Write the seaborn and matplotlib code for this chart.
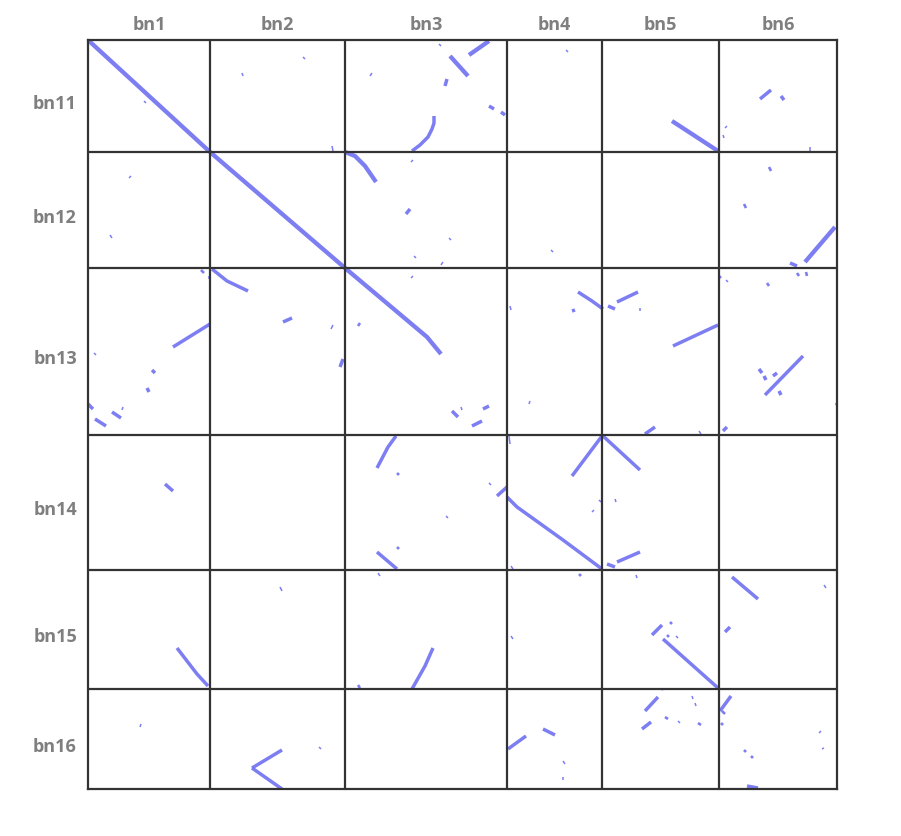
import numpy as np
import pandas as pd
import matplotlib
matplotlib.use("Agg")
import matplotlib.pyplot as plt
import matplotlib.transforms as mtransforms
import seaborn as sns

# chromosome names and lengths (Mb) on each axis
x_chroms = ["bn1", "bn2", "bn3", "bn4", "bn5", "bn6"]
x_lengths = [122, 135, 162, 95, 117, 118]
y_chroms = ["bn11", "bn12", "bn13", "bn14", "bn15", "bn16"]
y_lengths = [112, 116, 167, 135, 119, 100]

# syntenic hits per query chromosome: (target chrom, weight, [(x, y) local positions])
hits_bn11 = [
    ("bn1", 4, [(0, 0), (122, 112)]),
    ("bn1", 1, [(56, 61), (58, 63)]),
    ("bn2", 1, [(32, 33), (33, 36)]),
    ("bn2", 1, [(93, 17), (95, 19)]),
    ("bn2", 1, [(122, 106), (123, 111)]),
    ("bn3", 1, [(25, 36), (27, 33)]),
    ("bn3", 3, [(67, 111), (75, 105), (83, 97), (87, 89), (89, 83), (89, 76)]),
    ("bn3", 3, [(100, 46), (102, 39)]),
    ("bn3", 1, [(94, 4), (96, 6)]),
    ("bn3", 4, [(105, 16), (123, 36)]),
    ("bn3", 4, [(124, 15), (144, 1)]),
    ("bn3", 3, [(144, 66), (149, 69)]),
    ("bn3", 3, [(156, 72), (160, 75)]),
    ("bn4", 1, [(59, 10), (61, 12)]),
    ("bn5", 4, [(70, 81), (116, 111)]),
    ("bn6", 3, [(41, 59), (52, 50)]),
    ("bn6", 3, [(62, 56), (65, 60)]),
    ("bn6", 1, [(6, 88), (8, 86)]),
    ("bn6", 1, [(4, 95), (5, 98)]),
    ("bn6", 1, [(91, 107), (91, 111)]),
]
hits_bn12 = [
    ("bn1", 1, [(41, 26), (43, 24)]),
    ("bn1", 1, [(22, 83), (24, 86)]),
    ("bn2", 4, [(0, 0), (135, 116)]),
    ("bn3", 4, [(0, 0), (10, 4), (20, 14), (31, 30)]),
    ("bn3", 3, [(61, 62), (65, 57)]),
    ("bn3", 1, [(66, 10), (68, 8)]),
    ("bn3", 1, [(104, 86), (106, 88)]),
    ("bn3", 1, [(69, 104), (71, 106)]),
    ("bn3", 1, [(96, 113), (98, 110)]),
    ("bn4", 1, [(44, 98), (46, 100)]),
    ("bn6", 2, [(50, 15), (52, 19)]),
    ("bn6", 2, [(25, 52), (27, 56)]),
    ("bn6", 4, [(86, 110), (116, 75)]),
    ("bn6", 3, [(71, 111), (78, 114)]),
]
hits_bn13 = [
    ("bn1", 3, [(85, 79), (122, 56)]),
    ("bn1", 3, [(64, 102), (67, 105)]),
    ("bn1", 3, [(59, 120), (61, 124)]),
    ("bn1", 3, [(0, 136), (5, 141)]),
    ("bn1", 3, [(7, 151), (18, 158)]),
    ("bn1", 3, [(24, 144), (33, 150)]),
    ("bn1", 1, [(34, 142), (35, 139)]),
    ("bn1", 2, [(113, 2), (116, 5)]),
    ("bn1", 1, [(121, 8), (121, 11)]),
    ("bn1", 1, [(6, 85), (8, 87)]),
    ("bn2", 3, [(2, 1), (17, 13), (38, 23)]),
    ("bn2", 3, [(73, 54), (82, 50)]),
    ("bn2", 1, [(121, 61), (123, 57)]),
    ("bn2", 3, [(130, 99), (133, 91)]),
    ("bn3", 4, [(0, 0), (82, 69), (96, 86)]),
    ("bn3", 2, [(13, 58), (15, 55)]),
    ("bn3", 1, [(66, 10), (68, 8)]),
    ("bn3", 3, [(107, 143), (113, 149)]),
    ("bn3", 3, [(127, 158), (137, 153)]),
    ("bn3", 3, [(138, 141), (144, 138)]),
    ("bn3", 1, [(116, 139), (117, 142)]),
    ("bn4", 3, [(71, 24), (85, 33), (96, 41)]),
    ("bn4", 3, [(65, 43), (68, 42)]),
    ("bn4", 1, [(3, 38), (4, 42)]),
    ("bn4", 1, [(22, 136), (23, 133)]),
    ("bn5", 3, [(6, 38), (13, 41)]),
    ("bn5", 3, [(15, 34), (36, 24)]),
    ("bn5", 1, [(38, 40), (38, 43)]),
    ("bn5", 3, [(71, 78), (116, 57)]),
    ("bn5", 3, [(43, 166), (53, 159)]),
    ("bn5", 1, [(97, 163), (99, 166)]),
    ("bn6", 2, [(0, 8), (2, 10)]),
    ("bn6", 1, [(7, 12), (9, 14)]),
    ("bn6", 2, [(48, 15), (50, 18)]),
    ("bn6", 3, [(46, 127), (84, 88)]),
    ("bn6", 3, [(40, 101), (43, 105)]),
    ("bn6", 3, [(45, 108), (47, 112)]),
    ("bn6", 3, [(54, 108), (58, 105)]),
    ("bn6", 3, [(60, 123), (62, 127)]),
    ("bn6", 3, [(4, 163), (8, 159)]),
    ("bn6", 2, [(117, 135), (118, 137)]),
    ("bn6", 2, [(78, 5), (80, 8)]),
    ("bn6", 2, [(87, 4), (88, 8)]),
]
hits_bn14 = [
    ("bn1", 3, [(77, 49), (85, 56)]),
    ("bn3", 3, [(32, 33), (43, 12), (51, 1)]),
    ("bn3", 2, [(52, 38), (54, 40)]),
    ("bn3", 1, [(101, 81), (103, 83)]),
    ("bn3", 3, [(32, 117), (52, 134)]),
    ("bn3", 2, [(52, 112), (54, 114)]),
    ("bn3", 1, [(144, 48), (146, 50)]),
    ("bn3", 3, [(152, 61), (162, 52)]),
    ("bn4", 3, [(0, 62), (10, 72), (56, 105), (95, 134)]),
    ("bn4", 3, [(65, 41), (95, 1)]),
    ("bn4", 1, [(2, 1), (3, 9)]),
    ("bn4", 1, [(92, 65), (94, 67)]),
    ("bn4", 1, [(85, 77), (87, 75)]),
    ("bn4", 1, [(4, 131), (6, 134)]),
    ("bn5", 3, [(1, 1), (38, 35)]),
    ("bn5", 1, [(13, 64), (14, 67)]),
    ("bn5", 3, [(5, 129), (13, 132)]),
    ("bn5", 3, [(15, 127), (38, 117)]),
    ("bn6", 1, [(118, 43), (118, 46)]),
]
hits_bn15 = [
    ("bn1", 3, [(89, 78), (109, 104), (120, 116)]),
    ("bn2", 1, [(70, 17), (72, 21)]),
    ("bn3", 3, [(67, 119), (80, 96), (88, 78)]),
    ("bn3", 2, [(13, 115), (15, 118)]),
    ("bn3", 1, [(33, 3), (35, 6)]),
    ("bn4", 2, [(72, 4), (74, 6)]),
    ("bn4", 1, [(4, 66), (6, 69)]),
    ("bn5", 3, [(61, 69), (116, 118)]),
    ("bn5", 3, [(50, 65), (60, 55)]),
    ("bn5", 2, [(68, 52), (70, 54)]),
    ("bn5", 2, [(65, 65), (67, 67)]),
    ("bn5", 1, [(74, 66), (76, 68)]),
    ("bn5", 1, [(34, 5), (35, 8)]),
    ("bn6", 3, [(13, 7), (39, 29)]),
    ("bn6", 3, [(6, 62), (11, 57)]),
    ("bn6", 1, [(105, 15), (107, 18)]),
]
hits_bn16 = [
    ("bn1", 1, [(52, 38), (53, 35)]),
    ("bn2", 3, [(42, 79), (72, 61)]),
    ("bn2", 3, [(42, 79), (72, 100)]),
    ("bn2", 1, [(109, 58), (111, 60)]),
    ("bn4", 3, [(1, 60), (19, 47)]),
    ("bn4", 3, [(36, 40), (48, 46)]),
    ("bn4", 1, [(56, 72), (58, 75)]),
    ("bn4", 1, [(56, 88), (56, 91)]),
    ("bn5", 3, [(43, 22), (56, 8)]),
    ("bn5", 1, [(59, 0), (61, 1)]),
    ("bn5", 3, [(40, 40), (49, 33)]),
    ("bn5", 2, [(63, 28), (66, 30)]),
    ("bn5", 1, [(76, 32), (78, 34)]),
    ("bn5", 1, [(90, 7), (91, 10)]),
    ("bn5", 1, [(93, 14), (94, 17)]),
    ("bn5", 2, [(96, 34), (99, 36)]),
    ("bn6", 3, [(1, 22), (12, 7)]),
    ("bn6", 2, [(3, 22), (6, 25)]),
    ("bn6", 2, [(2, 34), (4, 36)]),
    ("bn6", 2, [(25, 61), (27, 63)]),
    ("bn6", 2, [(32, 67), (34, 69)]),
    ("bn6", 3, [(28, 97), (39, 99)]),
    ("bn6", 1, [(100, 44), (102, 42)]),
    ("bn6", 1, [(103, 60), (105, 59)]),
]

hits = {"bn11": hits_bn11, "bn12": hits_bn12, "bn13": hits_bn13,
        "bn14": hits_bn14, "bn15": hits_bn15, "bn16": hits_bn16}

# genome-wide offsets
x_off = dict(zip(x_chroms, np.concatenate([[0], np.cumsum(x_lengths)[:-1]])))
y_off = dict(zip(y_chroms, np.concatenate([[0], np.cumsum(y_lengths)[:-1]])))
x_total = sum(x_lengths)
y_total = sum(y_lengths)

rows = []
seg = 0
for ychr, blocks in hits.items():
    for xchr, w, pts in blocks:
        for px, py in pts:
            rows.append({"seg": seg, "x": x_off[xchr] + px, "y": y_off[ychr] + py, "w": w})
        seg += 1
df = pd.DataFrame(rows)

sns.set_style("white")
plt.rcParams["font.family"] = ["Open Sans", "DejaVu Sans"]

fig = plt.figure(figsize=(9.01, 8.37), dpi=100)
ax = fig.add_axes([88 / 901, 47 / 837, 749 / 901, 749 / 837])

sns.lineplot(data=df, x="x", y="y", units="seg", estimator=None, sort=False,
             size="w", sizes={1: 1.1, 2: 1.9, 3: 2.5, 4: 3.1},
             color="#7373f2", alpha=0.92, legend=False, ax=ax,
             solid_capstyle="butt")

# chromosome boundaries
grid_col = "#333333"
for b in np.cumsum(x_lengths)[:-1]:
    ax.axvline(b, color=grid_col, lw=1.6, zorder=5)
for b in np.cumsum(y_lengths)[:-1]:
    ax.axhline(b, color=grid_col, lw=1.6, zorder=5)
for s in ax.spines.values():
    s.set_color(grid_col)
    s.set_linewidth(1.6)
    s.set_zorder(5)

ax.set_xlim(0, x_total)
ax.set_ylim(y_total, 0)

x_centers = [x_off[c] + l / 2 for c, l in zip(x_chroms, x_lengths)]
y_centers = [y_off[c] + l / 2 for c, l in zip(y_chroms, y_lengths)]
ax.xaxis.tick_top()
ax.set_xticks(x_centers)
ax.set_xticklabels(x_chroms, fontweight="bold", fontsize=13, color="#7f7f7f")
ax.set_yticks(y_centers)
ax.set_yticklabels(y_chroms, fontweight="bold", fontsize=13, color="#7f7f7f")
ax.tick_params(length=0)
ax.tick_params(axis="x", pad=5)
ax.tick_params(axis="y", pad=8)
ax.set_xlabel("")
ax.set_ylabel("")

# row labels sit a little below the row centre in the original
shift = mtransforms.ScaledTranslation(0, -5 / 100, fig.dpi_scale_trans)
for lab in ax.get_yticklabels():
    lab.set_transform(lab.get_transform() + shift)

fig.savefig("out.png", dpi=100, facecolor="white")
